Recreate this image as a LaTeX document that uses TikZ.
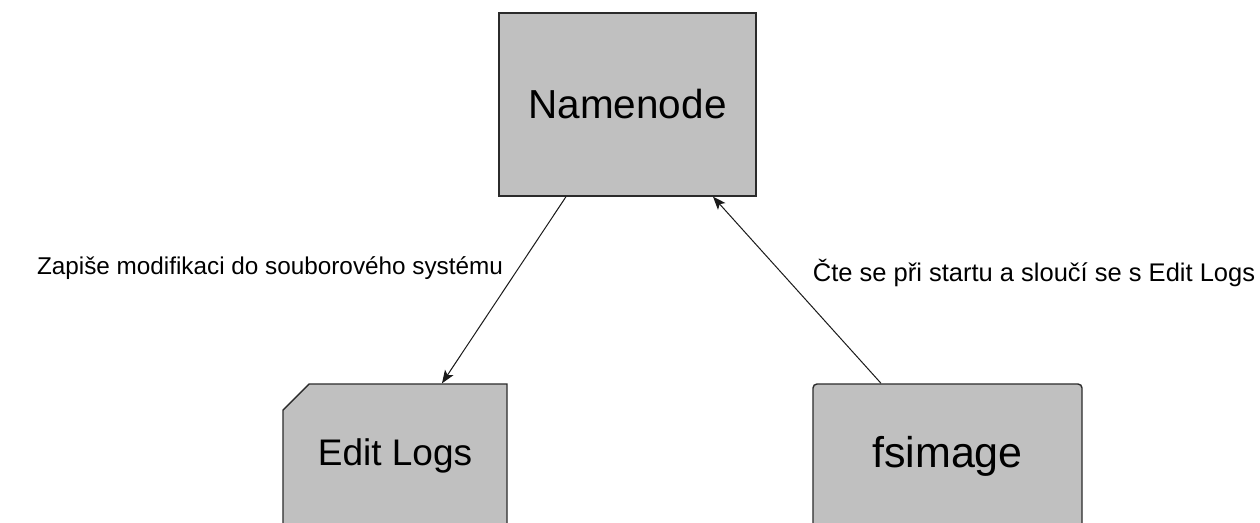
\documentclass[tikz,border=0pt]{standalone}
\usepackage{fontspec}
\setmainfont{Liberation Sans}
\usetikzlibrary{arrows.meta,shapes.misc}

\definecolor{boxfill}{HTML}{C0C0C0}
\definecolor{boxline}{HTML}{2B2B2B}
\definecolor{inkline}{HTML}{1A1A1A}

\tikzset{
  box/.style={fill=boxfill, draw=boxline, line width=1.4pt, inner sep=0pt,
    text=black},
  plainbox/.style={box, rectangle},
  chambox/.style={box, chamfered rectangle, chamfered rectangle corners=north west,
    chamfered rectangle xsep=13pt, chamfered rectangle ysep=13pt},
  roundbox/.style={box, rectangle, rounded corners=4pt},
  flow/.style={draw=inkline, line width=1pt,
    -{Stealth[length=13pt,width=10pt,inset=3pt]}},
  note/.style={inner sep=0pt, text=black}
}

\begin{document}
\begin{tikzpicture}[x=1pt,y=-1pt]
  \clip (0,0) rectangle (1260,522);
  \fill[white] (0,0) rectangle (1260,522);

  % storage boxes
  \node[plainbox, minimum width=257pt, minimum height=183pt,
        font=\fontsize{40.5}{46}\selectfont] (nn) at (627.5,104.5) {Namenode};
  \node[chambox, minimum width=224pt, minimum height=144pt,
        font=\fontsize{37}{43}\selectfont] (el) at (395,456) {Edit Logs};
  \node[roundbox, minimum width=269pt, minimum height=144pt,
        font=\fontsize{43}{49}\selectfont] (fs) at (947.5,456) {fsimage};

  % connectors
  \draw[flow] ([xshift=-61.5pt]nn.south) -- ([xshift=47pt]el.north);
  \draw[flow] ([xshift=-66.5pt]fs.north) -- ([xshift=85.5pt]nn.south);

  % connector labels
  \node[note, font=\fontsize{24.3}{28}\selectfont] (lbw) at (270,268)
    {Zapiše modifikaci do souborového systému};
  \node[note, font=\fontsize{25.5}{29}\selectfont] (lbr) at (1034,273)
    {Čte se při startu a sloučí se s Edit Logs};
\end{tikzpicture}
\end{document}
